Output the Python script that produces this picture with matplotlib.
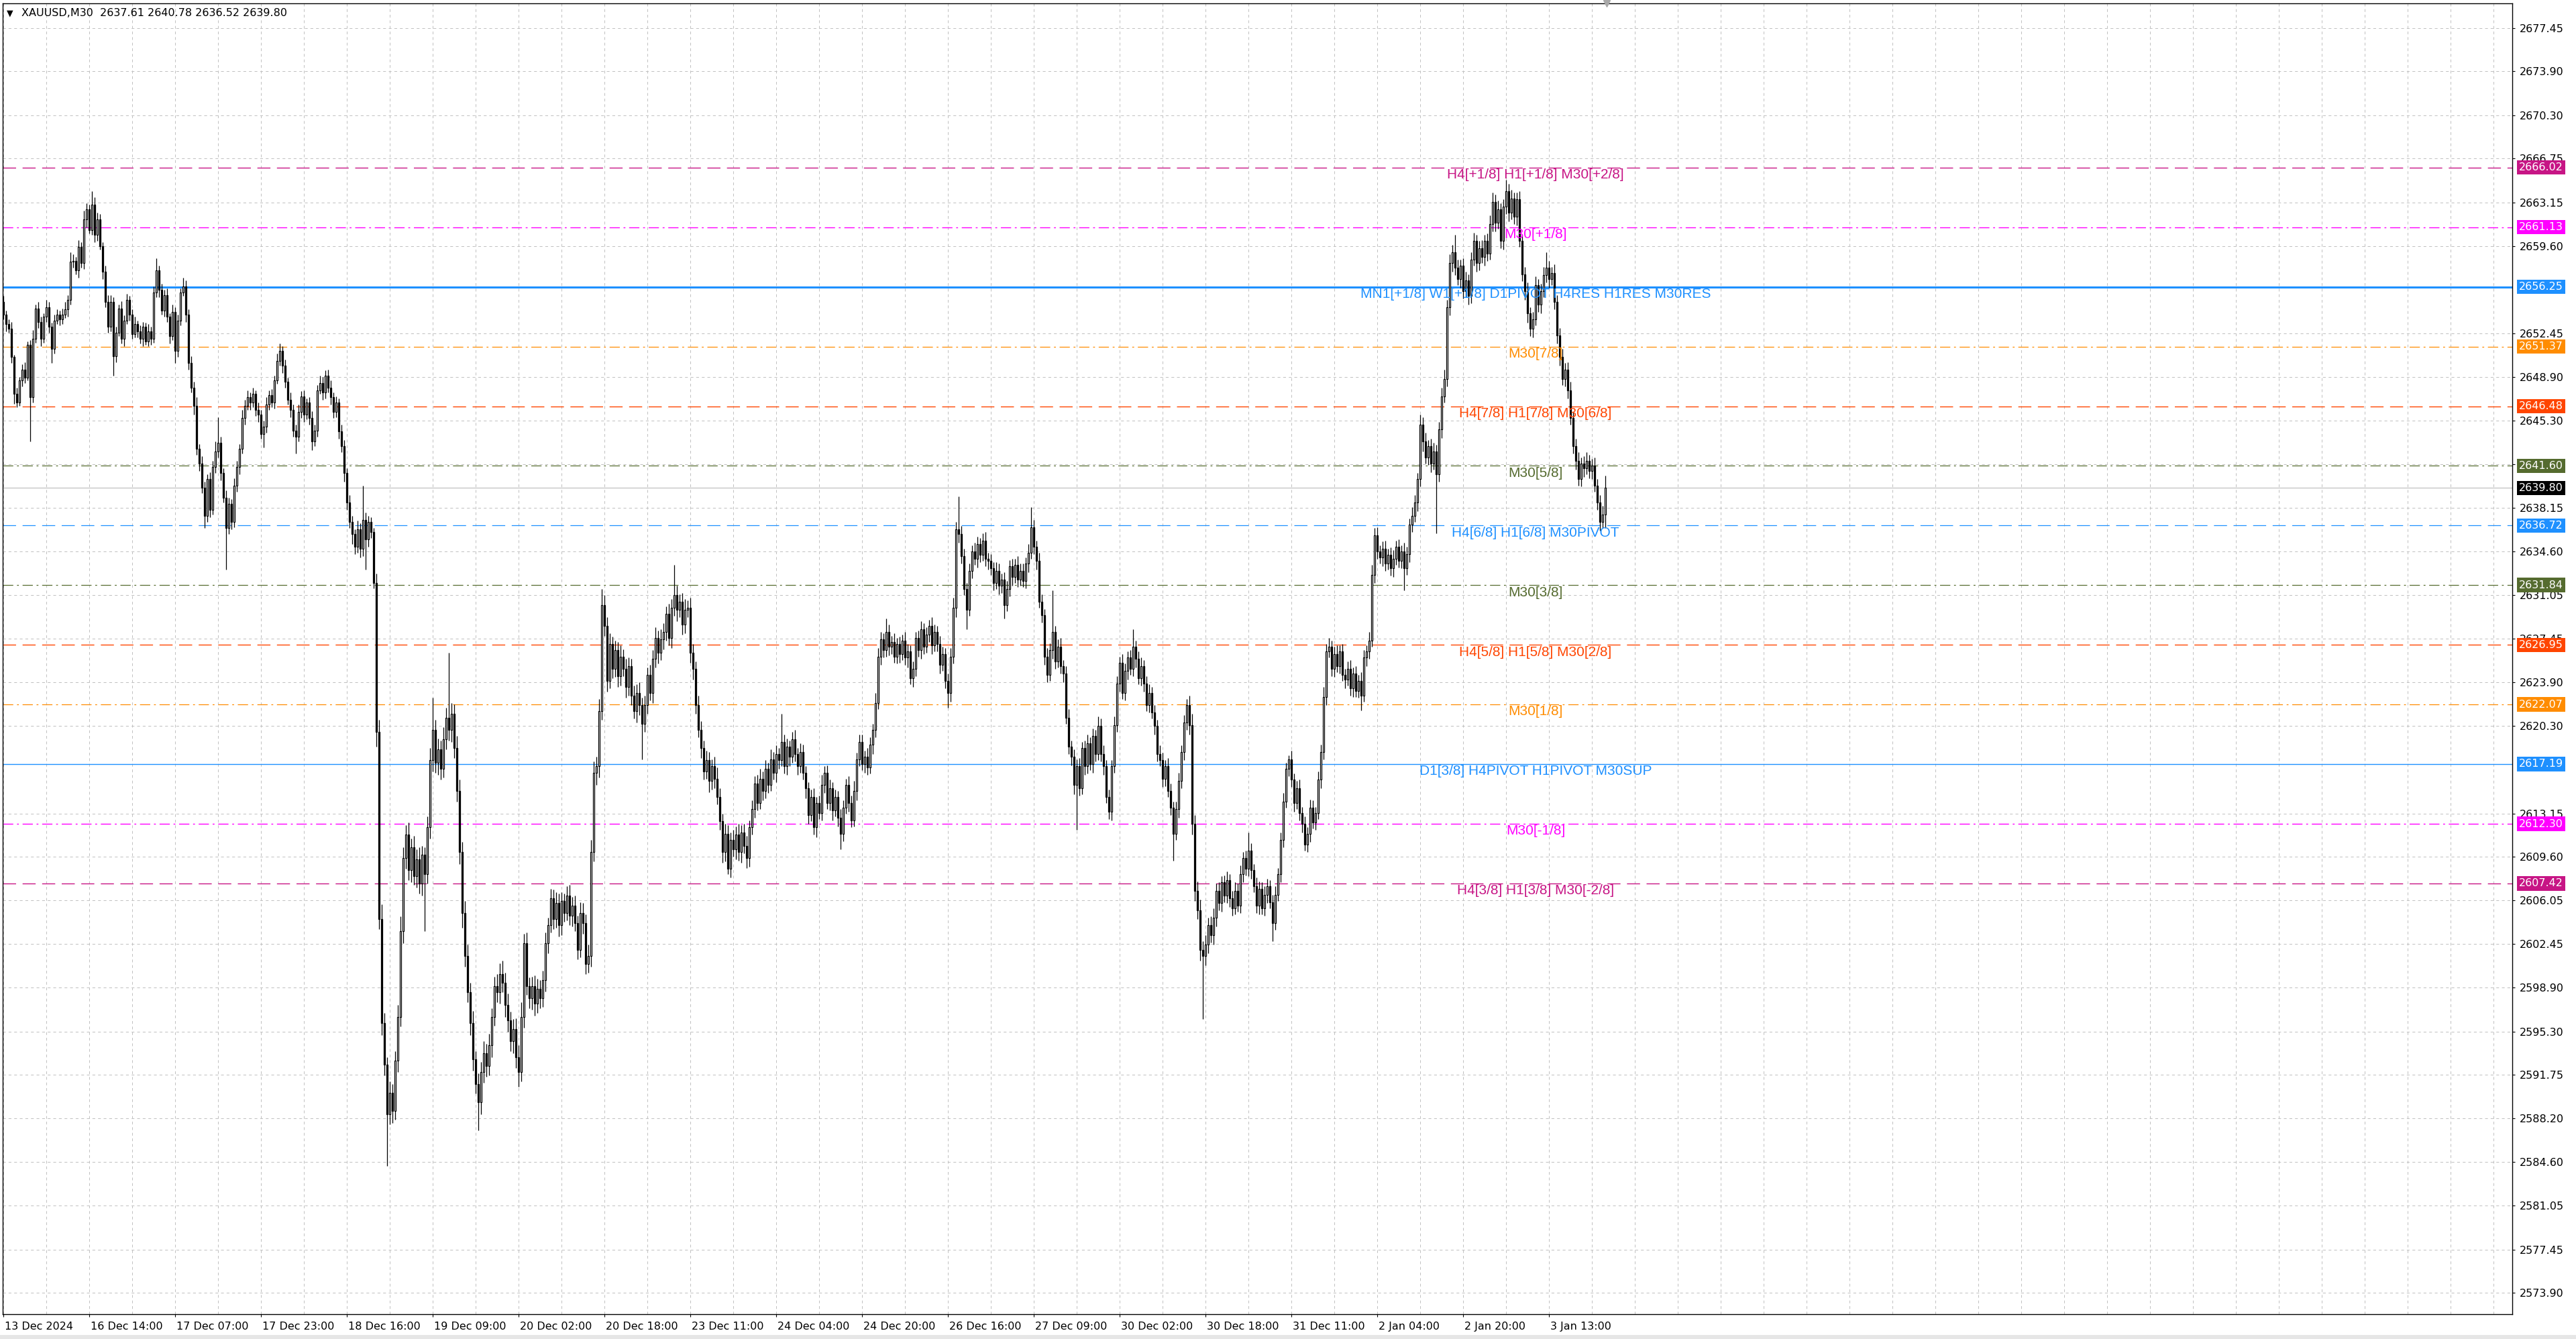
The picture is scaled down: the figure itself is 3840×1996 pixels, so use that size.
import matplotlib
matplotlib.use("Agg")
import matplotlib.pyplot as plt
import matplotlib.transforms as mtransforms
import numpy as np

plt.rcParams['lines.scale_dashes'] = False

# ---- data ----
symbol = "XAUUSD,M30"
first_open = 2655.0
last_bar = (2637.61, 2640.78, 2636.52, 2639.80)   # O H L C of the last candle (header)

closes = [
    2654.0, 2653.2, 2652.8, 2650.5, 2647.5, 2646.8, 2648.6, 2649.5, 2648.8, 2651.5, 2647.2, 2652.0, 2654.5, 2653.4, 2652.0, 2653.8, 2654.6, 2653.0, 2651.2, 2653.5,
    2654.0, 2653.6, 2654.0, 2654.4, 2655.2, 2658.3, 2658.4, 2657.6, 2659.5, 2658.2, 2661.8, 2662.6, 2660.9, 2663.0, 2660.5, 2661.8, 2659.6, 2657.5, 2655.0, 2653.0,
    2655.0, 2650.6, 2652.5, 2654.5, 2652.0, 2653.5, 2655.2, 2654.0, 2652.4, 2653.2, 2652.6, 2652.0, 2653.0, 2651.8, 2652.6, 2652.0, 2655.8, 2657.6, 2656.0, 2654.3,
    2655.6, 2653.8, 2652.2, 2654.2, 2651.0, 2653.5, 2655.8, 2656.3, 2654.0, 2650.0, 2648.0, 2646.5, 2643.0, 2641.8, 2639.8, 2637.5, 2640.5, 2638.0, 2641.5, 2642.8,
    2643.5, 2641.0, 2639.0, 2636.5, 2638.5, 2637.0, 2640.0, 2641.5, 2643.0, 2645.5, 2646.5, 2647.2, 2646.8, 2647.5, 2646.2, 2645.8, 2644.2, 2644.8, 2646.6, 2647.4,
    2646.8, 2648.6, 2650.2, 2651.0, 2649.8, 2648.5, 2647.0, 2646.2, 2644.5, 2644.0, 2646.0, 2647.3, 2645.8, 2646.8, 2645.5, 2643.6, 2644.5, 2647.8, 2648.4, 2647.6,
    2649.0, 2648.0, 2647.2, 2646.0, 2646.8, 2644.4, 2643.2, 2641.0, 2638.6, 2637.0, 2636.0, 2635.0, 2636.4, 2634.8, 2637.2, 2635.6, 2637.0, 2636.2, 2632.0, 2619.8,
    2604.5, 2596.0, 2592.6, 2588.5, 2590.3, 2588.8, 2592.9, 2596.5, 2603.5, 2609.5, 2611.4, 2608.5, 2610.4, 2608.0, 2609.4, 2607.4, 2609.8, 2608.2, 2612.0, 2617.5,
    2620.0, 2617.3, 2618.4, 2616.8, 2619.2, 2621.0, 2620.0, 2621.3, 2618.5, 2615.0, 2610.0, 2605.0, 2601.5, 2598.5, 2596.0, 2593.0, 2591.0, 2589.5, 2592.0, 2593.5,
    2592.5, 2594.2, 2596.5, 2599.0, 2598.5, 2600.0, 2599.3, 2597.5, 2596.2, 2594.5, 2595.5, 2593.2, 2592.0, 2596.5, 2602.5, 2599.0, 2598.0, 2599.0, 2597.6, 2598.8,
    2598.0, 2599.5, 2602.5, 2604.0, 2606.2, 2604.5, 2605.8, 2604.0, 2606.0, 2605.0, 2606.4, 2604.8, 2605.6, 2604.2, 2602.0, 2605.0, 2604.2, 2600.8, 2601.5, 2610.0,
    2616.5, 2617.0, 2621.5, 2630.2, 2628.5, 2624.0, 2627.0, 2625.0, 2626.5, 2624.4, 2626.0, 2625.0, 2623.5, 2625.2, 2622.8, 2621.5, 2623.0, 2622.0, 2620.5, 2622.0,
    2624.5, 2623.0, 2625.8, 2627.5, 2626.3, 2627.4, 2628.0, 2629.5, 2627.5, 2630.0, 2631.0, 2629.8, 2630.5, 2628.6, 2629.8, 2630.0, 2626.3, 2625.0, 2622.0, 2620.0,
    2618.5, 2616.6, 2617.5, 2615.8, 2617.0, 2616.0, 2614.5, 2612.5, 2610.0, 2611.5, 2608.6, 2611.0, 2610.2, 2611.4, 2610.0, 2611.6, 2610.5, 2609.5, 2612.0, 2613.5,
    2615.6, 2614.0, 2616.0, 2615.0, 2616.8, 2615.5, 2617.6, 2616.5, 2618.0, 2617.5, 2619.0, 2617.0, 2618.6, 2617.8, 2619.2, 2618.0, 2617.0, 2618.2, 2616.5, 2615.2,
    2613.0, 2614.5, 2612.0, 2614.0, 2613.2, 2615.5, 2616.5, 2614.0, 2615.2, 2613.4, 2614.5, 2612.8, 2611.5, 2613.6, 2615.5, 2614.0, 2612.6, 2615.0, 2617.6, 2619.0,
    2617.2, 2617.8, 2616.9, 2618.8, 2620.0, 2622.2, 2626.0, 2627.4, 2626.5, 2628.0, 2626.8, 2627.2, 2626.0, 2627.0, 2626.2, 2627.3, 2625.9, 2626.4, 2624.2, 2625.0,
    2627.5, 2626.5, 2628.2, 2626.8, 2627.8, 2628.5, 2626.9, 2628.0, 2627.0, 2625.3, 2626.2, 2624.0, 2623.0, 2626.0, 2630.0, 2636.4, 2636.0, 2634.2, 2631.5, 2629.8,
    2633.0, 2634.6, 2634.0, 2635.2, 2634.3, 2635.5, 2634.0, 2633.8, 2633.2, 2632.0, 2633.0, 2631.8, 2632.3, 2630.2, 2631.5, 2633.4, 2632.5, 2633.5, 2632.3, 2633.0,
    2632.2, 2633.6, 2634.5, 2636.6, 2635.0, 2633.8, 2630.5, 2629.4, 2626.0, 2624.5, 2626.5, 2628.0, 2625.6, 2626.8, 2625.2, 2624.6, 2621.0, 2618.6, 2617.8, 2615.5,
    2617.0, 2615.2, 2618.5, 2617.0, 2618.9, 2617.2, 2619.5, 2618.0, 2620.3, 2618.0, 2617.0, 2614.5, 2613.3, 2617.0, 2620.4, 2623.8, 2625.5, 2623.0, 2624.8, 2625.9,
    2625.0, 2626.8, 2625.8, 2624.2, 2625.2, 2623.8, 2622.0, 2623.0, 2621.4, 2620.3, 2618.0, 2617.5, 2616.0, 2617.0, 2615.0, 2613.6, 2611.5, 2613.5, 2615.8, 2618.2,
    2620.6, 2622.0, 2620.4, 2612.3, 2606.8, 2605.2, 2602.0, 2601.5, 2602.4, 2604.0, 2603.2, 2604.6, 2606.8, 2605.8, 2607.5, 2606.4, 2607.7, 2606.2, 2605.4, 2606.8,
    2605.6, 2608.2, 2609.5, 2608.6, 2610.1, 2608.5, 2607.2, 2605.6, 2607.0, 2605.4, 2606.5, 2607.2, 2605.9, 2604.2, 2606.5, 2608.2, 2611.0, 2614.1, 2616.8, 2617.6,
    2615.9, 2614.0, 2615.2, 2613.2, 2612.3, 2610.6, 2611.5, 2613.6, 2612.4, 2613.2, 2615.9, 2618.2, 2622.7, 2626.4, 2626.8, 2625.0, 2626.2, 2625.2, 2626.4, 2624.5,
    2624.1, 2625.0, 2623.4, 2624.6, 2623.2, 2624.0, 2622.8, 2625.9, 2626.4, 2627.3, 2632.7, 2635.9, 2634.6, 2634.1, 2634.8, 2633.6, 2634.3, 2633.2, 2634.0, 2635.0,
    2633.8, 2634.6, 2633.2, 2634.4, 2636.8, 2637.5, 2638.6, 2640.5, 2645.0, 2643.6, 2642.3, 2643.2, 2641.8, 2642.8, 2640.9, 2644.6, 2647.3, 2648.7, 2654.6, 2658.2,
    2659.1, 2657.8, 2656.9, 2658.0, 2655.9, 2656.8, 2655.5, 2658.5, 2660.0, 2658.2, 2659.4, 2658.7, 2660.0, 2659.0, 2661.4, 2663.2, 2661.5, 2662.6, 2660.0, 2662.8,
    2664.1, 2662.3, 2663.5, 2662.0, 2663.4, 2660.0, 2657.3, 2655.9, 2654.1, 2652.8, 2653.6, 2656.4, 2654.8, 2655.9, 2657.2, 2657.8, 2656.9, 2657.4, 2655.0, 2652.3,
    2650.5, 2648.7, 2649.5, 2647.8, 2645.5, 2643.2, 2642.0, 2640.5, 2641.8, 2641.4, 2642.0, 2641.2, 2641.6, 2640.0, 2638.6, 2637.0, 2637.61, 2639.80,
]

# upper / lower wick length of each candle, in tenths of a dollar
wick_up = [
    5, 3, 4, 6, 2, 5, 3, 4, 6, 3, 4, 7, 3, 5, 4, 3, 6, 4, 3, 5,
    4, 3, 5, 6, 4, 8, 5, 3, 6, 4, 7, 5, 4, 11, 6, 5, 4, 3, 5, 6,
    6, 4, 5, 3, 6, 4, 5, 3, 4, 6, 3, 5, 4, 3, 6, 4, 5, 10, 4, 5,
    4, 5, 3, 6, 4, 5, 3, 7, 5, 4, 6, 5, 7, 4, 6, 5, 4, 6, 5, 8,
    21, 5, 4, 6, 5, 4, 6, 5, 4, 7, 5, 6, 4, 5, 3, 6, 4, 5, 6, 4,
    5, 4, 6, 6, 4, 5, 3, 6, 4, 5, 6, 4, 5, 3, 4, 6, 5, 4, 6, 5,
    4, 5, 6, 4, 5, 3, 6, 5, 4, 6, 5, 4, 7, 5, 28, 6, 5, 4, 3, 8,
    10, 12, 8, 6, 9, 7, 8, 10, 12, 9, 8, 10, 7, 9, 8, 10, 7, 6, 9, 10,
    26, 8, 9, 7, 10, 8, 53, 9, 8, 10, 9, 8, 10, 9, 8, 10, 7, 9, 8, 10,
    8, 9, 7, 8, 10, 9, 11, 8, 9, 7, 8, 9, 10, 12, 8, 9, 7, 8, 9, 8,
    7, 8, 9, 6, 8, 7, 9, 8, 7, 6, 8, 9, 7, 8, 6, 9, 8, 7, 9, 10,
    9, 8, 10, 13, 8, 7, 9, 6, 8, 7, 9, 6, 8, 7, 6, 8, 7, 9, 6, 8,
    6, 8, 7, 9, 6, 8, 7, 6, 8, 7, 25, 8, 6, 7, 9, 6, 8, 7, 6, 8,
    7, 6, 8, 7, 6, 8, 9, 7, 6, 8, 7, 6, 8, 7, 9, 6, 7, 8, 6, 7,
    6, 7, 8, 6, 7, 5, 8, 6, 7, 5, 23, 6, 7, 5, 6, 8, 5, 7, 6, 5,
    5, 6, 7, 5, 6, 8, 5, 6, 7, 5, 6, 5, 7, 6, 5, 7, 6, 8, 5, 6,
    6, 5, 7, 6, 5, 8, 7, 6, 5, 11, 6, 5, 7, 5, 6, 5, 7, 6, 5, 6,
    5, 6, 7, 5, 6, 5, 7, 6, 5, 7, 6, 5, 6, 7, 8, 6, 27, 7, 6, 5,
    6, 5, 7, 6, 5, 6, 7, 5, 6, 5, 7, 6, 5, 6, 7, 5, 6, 5, 7, 6,
    6, 5, 7, 16, 6, 5, 7, 6, 5, 7, 6, 34, 5, 6, 7, 5, 6, 7, 5, 6,
    6, 7, 5, 6, 7, 5, 6, 5, 8, 6, 7, 5, 6, 5, 7, 6, 5, 7, 6, 5,
    6, 14, 5, 6, 7, 5, 6, 7, 5, 6, 5, 7, 6, 5, 7, 6, 5, 6, 7, 5,
    6, 5, 8, 9, 7, 8, 9, 7, 8, 6, 7, 8, 6, 7, 5, 6, 7, 5, 6, 7,
    6, 7, 5, 6, 15, 6, 5, 7, 6, 5, 7, 6, 5, 6, 7, 5, 6, 7, 5, 3,
    7, 5, 6, 7, 5, 6, 5, 7, 6, 5, 7, 6, 8, 6, 7, 5, 6, 7, 5, 6,
    5, 6, 7, 5, 6, 5, 7, 6, 5, 7, 8, 6, 7, 5, 6, 7, 5, 6, 7, 5,
    6, 5, 7, 6, 5, 7, 6, 5, 8, 6, 7, 5, 6, 7, 5, 6, 7, 8, 6, 7,
    6, 14, 7, 5, 6, 7, 5, 6, 7, 5, 6, 7, 5, 6, 7, 8, 6, 7, 5, 6,
    9, 6, 7, 5, 6, 7, 5, 6, 7, 5, 6, 7, 5, 6, 7, 13, 6, 5, 7, 6,
    6, 7, 5, 6, 7, 5, 6, 7, 5, 6, 7, 5, 6, 7, 5, 6, 7, 10,
]
wick_dn = [
    4, 6, 3, 5, 8, 4, 3, 5, 4, 2, 36, 4, 3, 5, 6, 3, 4, 5, 12, 4,
    3, 5, 4, 3, 6, 4, 5, 3, 6, 4, 5, 7, 3, 4, 6, 5, 3, 6, 4, 5,
    4, 16, 5, 3, 4, 6, 3, 5, 4, 3, 5, 4, 6, 3, 4, 5, 3, 4, 6, 3,
    5, 4, 6, 3, 10, 5, 4, 3, 6, 5, 4, 7, 5, 6, 4, 10, 5, 6, 4, 5,
    5, 6, 4, 34, 5, 6, 4, 5, 6, 4, 5, 3, 6, 4, 5, 6, 4, 11, 5, 4,
    4, 5, 3, 4, 6, 5, 4, 6, 5, 14, 4, 5, 6, 4, 5, 7, 4, 5, 3, 6,
    5, 4, 6, 5, 4, 6, 5, 7, 6, 5, 8, 6, 5, 7, 6, 25, 6, 5, 4, 12,
    8, 10, 9, 42, 8, 10, 7, 9, 8, 10, 9, 8, 10, 7, 9, 8, 10, 47, 8, 9,
    9, 8, 10, 9, 7, 8, 9, 10, 8, 9, 10, 12, 9, 8, 10, 9, 8, 23, 10, 9,
    9, 8, 10, 7, 8, 9, 8, 10, 9, 8, 10, 9, 12, 8, 9, 7, 8, 9, 10, 8,
    8, 7, 9, 8, 6, 8, 7, 9, 8, 7, 6, 8, 9, 7, 8, 6, 9, 8, 7, 9,
    8, 10, 9, 7, 8, 9, 6, 8, 7, 9, 8, 6, 9, 7, 8, 6, 9, 8, 29, 7,
    7, 6, 8, 7, 9, 6, 8, 7, 6, 8, 7, 9, 6, 8, 7, 6, 8, 9, 7, 6,
    8, 7, 6, 9, 7, 8, 6, 7, 9, 8, 4, 7, 6, 8, 7, 9, 6, 8, 7, 6,
    7, 6, 5, 8, 6, 7, 5, 6, 8, 7, 5, 6, 7, 8, 5, 6, 7, 5, 6, 8,
    7, 5, 6, 8, 5, 6, 7, 5, 6, 8, 5, 7, 13, 6, 5, 7, 6, 5, 8, 6,
    5, 7, 6, 5, 8, 6, 5, 7, 6, 5, 7, 6, 5, 6, 7, 5, 6, 8, 5, 7,
    6, 5, 7, 6, 5, 6, 7, 5, 6, 7, 5, 6, 12, 7, 6, 8, 7, 6, 5, 16,
    5, 6, 5, 7, 6, 5, 6, 7, 5, 6, 5, 7, 6, 11, 5, 6, 7, 5, 6, 5,
    5, 6, 7, 5, 6, 7, 5, 6, 7, 6, 5, 7, 6, 5, 6, 7, 5, 6, 7, 8,
    37, 6, 5, 7, 6, 5, 7, 6, 5, 6, 7, 5, 6, 7, 5, 6, 7, 5, 6, 7,
    5, 6, 7, 5, 6, 7, 5, 6, 5, 7, 6, 5, 7, 6, 5, 6, 22, 5, 7, 6,
    7, 6, 8, 9, 8, 7, 9, 52, 8, 7, 6, 8, 7, 6, 7, 5, 6, 7, 6, 5,
    5, 6, 7, 5, 6, 7, 5, 6, 7, 5, 6, 7, 5, 15, 6, 5, 7, 6, 5, 6,
    6, 7, 5, 6, 7, 5, 6, 7, 5, 6, 5, 7, 6, 7, 5, 6, 7, 5, 6, 5,
    7, 5, 6, 7, 5, 6, 12, 5, 7, 6, 5, 7, 6, 5, 7, 6, 5, 6, 7, 5,
    5, 6, 18, 5, 7, 6, 5, 7, 6, 8, 5, 6, 7, 5, 48, 6, 7, 5, 6, 7,
    7, 6, 5, 7, 6, 5, 7, 6, 5, 7, 6, 5, 7, 6, 5, 6, 7, 5, 6, 7,
    6, 7, 5, 6, 7, 5, 6, 7, 8, 6, 7, 5, 6, 7, 5, 6, 7, 5, 6, 7,
    7, 5, 6, 7, 5, 6, 7, 5, 6, 7, 5, 6, 7, 5, 6, 7, 5, 11,
]

date_labels = ["13 Dec 2024", "16 Dec 14:00", "17 Dec 07:00", "17 Dec 23:00", "18 Dec 16:00",
               "19 Dec 09:00", "20 Dec 02:00", "20 Dec 18:00", "23 Dec 11:00", "24 Dec 04:00",
               "24 Dec 20:00", "26 Dec 16:00", "27 Dec 09:00", "30 Dec 02:00", "30 Dec 18:00",
               "31 Dec 11:00", "2 Jan 04:00", "2 Jan 20:00", "3 Jan 13:00"]
bars_per_label = 32

price_ticks = [2677.45, 2673.90, 2670.30, 2666.75, 2663.15, 2659.60, 2652.45, 2648.90, 2645.30,
               2641.75, 2638.15, 2634.60, 2631.05, 2627.45, 2623.90, 2620.30, 2613.15, 2609.60,
               2606.05, 2602.45, 2598.90, 2595.30, 2591.75, 2588.20, 2584.60, 2581.05, 2577.45, 2573.90]

level_prices = [2666.02, 2661.13, 2656.25, 2651.37, 2646.48, 2641.60, 2636.72,
                2631.84, 2626.95, 2622.07, 2617.19, 2612.30, 2607.42]
level_labels = ["H4[+1/8] H1[+1/8] M30[+2/8]", "M30[+1/8]",
                "MN1[+1/8] W1[+1/8] D1PIVOT H4RES H1RES M30RES", "M30[7/8]",
                "H4[7/8] H1[7/8] M30[6/8]", "M30[5/8]", "H4[6/8] H1[6/8] M30PIVOT", "M30[3/8]",
                "H4[5/8] H1[5/8] M30[2/8]", "M30[1/8]", "D1[3/8] H4PIVOT H1PIVOT M30SUP",
                "M30[-1/8]", "H4[3/8] H1[3/8] M30[-2/8]"]

# ---- styles ----
DASH = (0, (14, 7))
DDOT = (0, (11, 4, 2, 4))
level_colors = ["#C71585", "#FF00FF", "#1E90FF", "#FF8C00", "#FF4500", "#556B2F", "#1E90FF",
                "#556B2F", "#FF4500", "#FF8C00", "#1E90FF", "#FF00FF", "#C71585"]
level_styles = [DASH, DDOT, "-", DDOT, DASH, DDOT, DASH, DDOT, DASH, DDOT, "-", DDOT, DASH]
level_widths = [1.0, 1.0, 2.2, 0.9, 1.0, 0.9, 0.9, 0.9, 1.0, 0.9, 1.0, 1.0, 1.0]
label_x = 571          # bar index where the level captions are centred
GRID = "#C0C0C0"
AXFONT = "DejaVu Sans"

W, H = 3840, 1996
fig = plt.figure(figsize=(W / 100, H / 100), dpi=100)
ax = fig.add_axes([4 / W, 37 / H, 3741 / W, 1954 / H])
ax.set_facecolor("white")

# candles
c = np.array(closes)
o = np.array([first_open] + closes[:-1])
hi = np.maximum(o, c) + np.array(wick_up) / 10
lo = np.minimum(o, c) - np.array(wick_dn) / 10
o[-1], hi[-1], lo[-1], c[-1] = last_bar
x = np.arange(len(c))
bull = c >= o
ax.vlines(x, lo, hi, color="black", lw=0.9, zorder=3)
ax.bar(x[bull], (c - o)[bull], bottom=o[bull], width=0.6, facecolor="white",
       edgecolor="black", linewidth=0.9, zorder=4)
ax.bar(x[~bull], (o - c)[~bull], bottom=c[~bull], width=0.6, facecolor="black",
       edgecolor="black", linewidth=0.9, zorder=4)

ax.set_xlim(-0.25, 935)
ax.set_ylim(2572.16, 2679.46)

# level lines and captions
for p, lab, col, ls, lw in zip(level_prices, level_labels, level_colors, level_styles, level_widths):
    ax.axhline(p, color=col, linestyle=ls, lw=lw, zorder=2)
    ax.annotate(lab, (label_x, p), xytext=(0, -1), textcoords="offset points",
                ha="center", va="top", color=col, fontsize=15,
                family="Liberation Sans", zorder=6)
    ax.annotate(f"{p:.2f}", (1.0, p), xycoords=("axes fraction", "data"),
                xytext=(7, 0), textcoords="offset points", ha="left", va="center",
                color="white", fontsize=11.5, family=AXFONT, annotation_clip=False,
                bbox=dict(boxstyle="square,pad=0.2", fc=col, ec="none"), zorder=10)

# current price
cur = last_bar[3]
ax.axhline(cur, color="#C0C0C0", lw=0.9, zorder=1.8)
ax.annotate(f"{cur:.2f}", (1.0, cur), xycoords=("axes fraction", "data"),
            xytext=(7, 0), textcoords="offset points", ha="left", va="center",
            color="white", fontsize=11.5, family=AXFONT, annotation_clip=False,
            bbox=dict(boxstyle="square,pad=0.2", fc="black", ec="none"), zorder=10)

# axes, ticks, grid
ax.set_axisbelow(True)
ax.yaxis.tick_right()
ax.set_yticks(price_ticks)
ax.set_yticklabels([f"{p:.2f}" for p in price_ticks], family=AXFONT, fontsize=11.5)
ax.tick_params(axis="y", direction="out", length=3, width=0.8, pad=5)
ax.set_xticks(np.arange(len(date_labels)) * bars_per_label)
ax.set_xticklabels(date_labels, family=AXFONT, fontsize=11.5, ha="left")
ax.set_xticks(np.arange(0, 935, 16), minor=True)
ax.tick_params(axis="x", which="major", direction="out", length=3, width=0.8, pad=5)
ax.tick_params(axis="x", which="minor", length=0)
shift = mtransforms.ScaledTranslation(2 / 100, 0, fig.dpi_scale_trans)
for t in ax.get_xticklabels():
    t.set_transform(t.get_transform() + shift)
ax.grid(True, which="both", axis="x", color=GRID, linestyle=(0, (3, 3)), lw=0.7)
ax.grid(True, which="major", axis="y", color=GRID, linestyle=(0, (3, 3)), lw=0.7)
for s in ax.spines.values():
    s.set_color("black")
    s.set_linewidth(1.0)

# shift marker at top
ax.plot([597.5], [1.0], marker="v", color="#A8A8A8", markersize=7,
        transform=ax.get_xaxis_transform(), clip_on=False, zorder=10)

# header
fig.text(15 / W, 1 - 20 / H, "\u25BC", fontsize=9, family=AXFONT, va="center", ha="center")
fig.text(32 / W, 1 - 20 / H, f"{symbol}  " + " ".join(f"{v:.2f}" for v in last_bar),
         fontsize=11.5, family=AXFONT, va="center", ha="left")

# bottom window strip
fig.patches.append(plt.Rectangle((0, 0), 1, 6 / H, transform=fig.transFigure,
                                 fc="#E6E6E6", ec="none"))

fig.savefig("out.png", dpi=100)
